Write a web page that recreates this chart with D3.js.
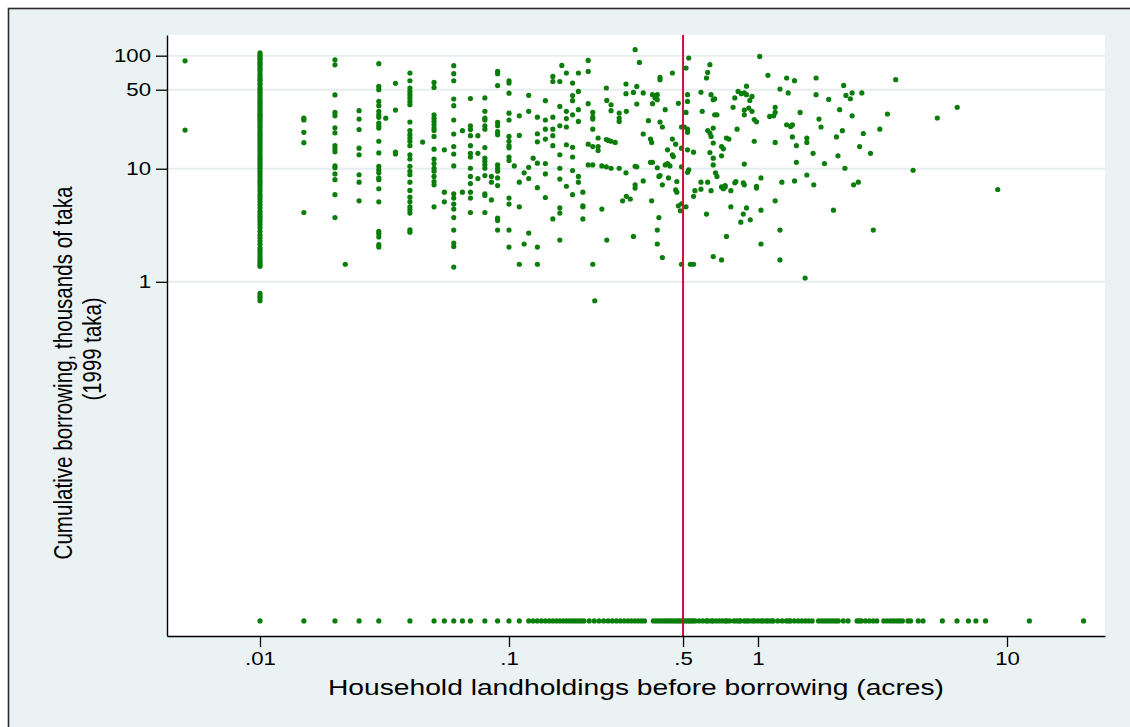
<!DOCTYPE html>
<html><head><meta charset="utf-8">
<script src="https://cdn.jsdelivr.net/npm/d3@7"></script>
<style>
body{margin:0;background:#fff;}
svg{display:block;}
text{font-family:"Liberation Sans", Arial, sans-serif;fill:#000;}
</style>
</head><body>
<svg id="chart" width="1130" height="727"></svg>
<script>
// ---------------- DATA ----------------
const xTickValues = [0.01, 0.1, 0.5, 1, 10];
const xTickLabels = [".01", ".1", ".5", "1", "10"];
const yTickValues = [1, 10, 50, 100];
const cutoffAcres = 0.5;
const zeroBorrowingPlotValue = 0.001; // households with no borrowing are drawn on this row

// households holding 0.01 acres (dense column), thousands of taka
const borrowingAt001 = [106,102,98,95,92,88,85,82,78,75,72,68,65,62,60,57,55,52,50,48,46,44,42,40,38.5,37,35.5,34,32.5,31,30,29,28,27,26,25,24,23,22,21,20,19.2,18.4,17.6,16.8,16,15.2,14.5,13.8,13.1,12.5,12,11.5,11,10.5,10,9.5,9,8.5,8,7.6,7.2,6.8,6.4,6,5.7,5.4,5.1,4.8,4.5,4.2,4,3.8,3.6,3.4,3.2,3,2.8,2.6,2.45,2.3,2.15,2,1.9,1.8,1.7,1.62,1.55,1.48,1.42,1.37,0.79,0.75,0.72,0.68];

// small holdings recorded in discrete steps
const columnLand = [0.005,0.015,0.02,0.022,0.025,0.03,0.032,0.035,0.04,0.045,0.05,0.055,0.06,0.065,0.07,0.075,0.08,0.085,0.09,0.1,0.105,0.11,0.115,0.12,0.125,0.13,0.14,0.15,0.16,0.163,0.17,0.18,0.19];
const columnBorrowing = [
  [90,22],
  [28,27,21,17,4.1],
  [92,83,45,31.5,29.4,23,20.8,16,15,14.1,10.6,10.2,9,8,5.9,3.7],
  [1.43],
  [32.6,27.5,22.2,15.2,13.3,8.85,7.6,5.2],
  [85,53.5,50,39.4,36.1,32.2,30,28.5,25.4,24,22.9,17.5,13.8,10.5,9.8,9.2,8.3,8,6.65,5.1,2.79,2.66,2.49,2.13,2.03],
  [28],
  [57,33,14,13.5],
  [70.3,60,51.8,48.3,45.2,42.3,39.4,36.9,25.9,21.8,20,18.7,17.5,16,13.3,12.2,10.5,9.5,8.85,7.6,6.43,5.6,5.1,4.6,4.33,4.05,2.88,2.75],
  [17.2],
  [58,52.4,30,28,26.2,24.5,22.9,21.8,19.3,14.9,12.2,11.1,10.1,9.5,8.55,7.7,7.2,4.6],
  [14.7,6.2,5.1],
  [81.6,69.3,60,41.4,36.1,27,20.3,15.7,13.5,10.6,6,5.5,4.87,4.4,3.7,2.87,2.2,2.05,1.35],
  [21.7,6.2],
  [41.8,24,22.2,19.6,16,13.7,12.7,10.1,8.55,7.4,6.2,5.5,4.1],
  [19.6,13.7,8.2],
  [42.3,32.2,28,27,24,22.4,15.4,12.4,11.6,10.8,10.1,8.7,6,5.8,4.1],
  [8.55,7.6,5.3],
  [72.7,69.3,54.4,25.7,24,21.3,20,10.8,10.1,9.5,8.3,7.1,3.66,3.49,2.87],
  [60,57.3,46.6,31,27,19.3,17.5,16,15.3,12.7,11.8,5.5,4.87,2.87,2.03],
  [10.6],
  [29.4,19.7,7.6,4.6,1.43],
  [9.2,2.16],
  [44.6,32.2,10.3,8.2,2.7],
  [12.4],
  [28.6,20.4,17.3,11.2,6.8,2.03,1.43],
  [40,27,22.4,18.3,11.1,9,5.57],
  [65.6,59.1,28.6,22.4,19.6,16,3.6],
  [59.1,35.6,24,13.3,10.1,8.1,4.5,4.05,2.34],
  [82],
  [70.3,32.2,27.8,23.4,16.3,7],
  [57.3,44.4,40,30,15.5,12.7,9.65,5.9],
  [70.3,48.3,33.3,26.2,8.55,7.6]
];

// [acres, thousands of taka] for holdings between 0.2 and 1 acre
const midHoldings = [[0.208,90.8],[0.208,72.6],[0.208,37.6],[0.217,31.5],[0.217,28.7],[0.217,27.5],[0.217,22.4],[0.208,16.5],[0.217,15.7],[0.228,18.7],[0.228,15.7],[0.228,14.5],[0.208,10.8],[0.217,10.8],[0.236,10.6],[0.246,18.1],[0.251,17.8],[0.257,17.5],[0.267,17.1],[0.246,51.8],[0.247,40.2],[0.257,36.8],[0.257,32.6],[0.246,10.4],[0.257,10.1],[0.277,31.1],[0.277,28.1],[0.277,26.2],[0.277,10.1],[0.295,56.2],[0.295,46.1],[0.296,32.2],[0.295,9.2],[0.316,47.3],[0.326,53.5],[0.326,37.4],[0.321,113],[0.334,87.2],[0.321,10.5],[0.326,10.4],[0.321,7.2],[0.321,6.75],[0.346,46.8],[0.346,7.8],[0.363,26.6],[0.346,20.3],[0.37,18.3],[0.374,17.1],[0.37,11.4],[0.377,11.4],[0.377,45.2],[0.386,42.3],[0.394,45.2],[0.394,40.8],[0.377,37.6],[0.404,64.3],[0.404,61.3],[0.404,25.9],[0.413,23.4],[0.424,33.3],[0.394,10.2],[0.4,8.55],[0.404,8.7],[0.413,7.2],[0.433,14.7],[0.453,13.3],[0.457,12.8],[0.467,16.5],[0.453,18.3],[0.424,10.8],[0.433,11.1],[0.443,10.6],[0.437,8.3],[0.453,70.3],[0.472,7.7],[0.479,37.9],[0.493,23.4],[0.506,23.4],[0.493,15.2],[0.493,10.4],[0.514,77.8],[0.527,95.4],[0.521,45.2],[0.521,39.4],[0.514,31.5],[0.521,22.4],[0.521,21],[0.521,14.7],[0.551,14],[0.527,9.8],[0.521,9.3],[0.59,47.5],[0.597,32.2],[0.59,7.6],[0.628,7.6],[0.621,63.5],[0.628,71.1],[0.641,83.2],[0.648,45.2],[0.67,41.6],[0.661,40.8],[0.67,30],[0.684,30],[0.661,22.9],[0.628,21.8],[0.641,20.7],[0.648,19.3],[0.641,13.9],[0.661,12.4],[0.661,10.8],[0.661,16.9],[0.747,18.7],[0.764,18.3],[0.714,15.7],[0.726,15],[0.714,13],[0.675,9.2],[0.684,8.55],[0.738,7.1],[0.714,6.9],[0.794,34.9],[0.807,42.3],[0.824,22.4],[0.832,48.3],[0.857,46.1],[0.881,46.8],[0.899,53.8],[0.899,45.2],[0.927,40.2],[0.946,43.6],[0.881,33],[0.881,30],[0.918,34.4],[0.946,32.2],[0.966,27.2],[0.986,26],[0.966,17.5],[0.881,11],[0.815,7.7],[0.873,7.5],[0.986,7],
[0.198,4.7],[0.198,4.6],[0.198,3.6],[0.198,6.2],[0.236,4.4],[0.217,1.43],[0.221,0.68],[0.247,2.34],[0.286,5.2],[0.296,5.7],[0.307,5.4],[0.316,2.52],[0.374,5.2],[0.4,3.7],[0.394,2.87],[0.394,2.16],[0.413,1.64],[0.467,6.5],[0.472,6.2],[0.479,4.7],[0.493,4.9],[0.488,4.25],[0.514,4.6],[0.493,1.43],[0.535,1.43],[0.551,1.43],[0.551,5.7],[0.558,6.4],[0.59,6.6],[0.648,6.4],[0.621,3.97],[0.726,6.65],[0.738,6.9],[0.778,6.4],[0.778,4.6],[0.807,7.5],[0.881,7.2],[0.747,2.52],[0.661,1.67],[0.714,1.56],[0.899,4.5],[0.873,3.97],[0.853,3.37],[0.931,3.54],[0.986,6.75]];

// [acres, thousands of taka] for holdings of 1 acre or more
const largeHoldings = [[1.016,98.6],[1.096,67],[1.303,63.5],[1.402,60.1],[1.711,63.5],[1.225,50.7],[1.322,46.8],[1.711,45.2],[1.923,41],[2.208,54.6],[2.255,44.5],[2.349,41.6],[2.388,46.8],[2.612,46.8],[3.573,61.3],[1.114,29],[1.156,29.4],[1.172,31.5],[1.172,34.9],[1.476,31.5],[2.128,33.3],[2.388,29.4],[3.311,30.5],[5.248,28.1],[6.31,34.9],[1.303,24.5],[1.352,23.7],[1.374,24.4],[1.758,27.5],[1.791,23.4],[1.374,19.1],[1.426,16],[1.571,18.7],[1.571,17.1],[1.172,17.1],[2.182,21.7],[2.065,19.1],[2.648,20.5],[3.085,22.4],[2.559,15.7],[2.831,13.7],[1.664,13.7],[2.095,13],[1.426,11.4],[1.849,11.1],[2.234,10.1],[4.198,9.7],[1.028,8.3],[1.247,7.6],[1.402,7.8],[1.571,8.8],[1.675,7.2],[2.421,7.2],[2.529,7.6],[9.18,6.55],[1.172,5.2],[2.009,4.3],[1.028,4.3],[1.225,2.87],[2.904,2.87],[1.028,2.16],[1.225,1.56],[1.546,1.08]];

// landholdings of households with zero cumulative borrowing
const zeroBorrowingLand = [0.01,0.015,0.02,0.025,0.03,0.04,0.05,0.055,0.06,0.065,0.07,0.08,0.09,0.1,0.11,0.12,0.125,0.13,0.135,0.14,0.145,0.15,0.155,0.16,0.165,0.17,0.175,0.18,0.185,0.19,0.195,0.2,0.21,0.22,0.23,0.24,0.25,0.26,0.27,0.28,0.29,0.3,0.31,0.32,0.33,0.34,0.35,0.38,0.39,0.4,0.41,0.42,0.43,0.44,0.45,0.46,0.47,0.48,0.49,0.5,0.51,0.52,0.53,0.54,0.55,0.56,0.58,0.6,0.62,0.63,0.65,0.66,0.68,0.7,0.72,0.74,0.75,0.77,0.8,0.82,0.84,0.85,0.88,0.9,0.92,0.95,0.97,1,1.03,1.05,1.08,1.1,1.13,1.15,1.2,1.25,1.3,1.33,1.35,1.4,1.45,1.5,1.55,1.6,1.65,1.75,1.8,1.85,1.9,1.95,2,2.05,2.1,2.2,2.3,2.5,2.55,2.6,2.7,2.8,2.9,3,3.2,3.3,3.4,3.5,3.6,3.7,3.8,4,4.1,4.4,4.6,5.5,6.3,7,7.5,8.2,12.3,20.3];

// ---------------- CHART ----------------
const svg = d3.select("#chart");
const plot = {left:167, right:1105, top:35, bottom:636};
const textStretch = 1.27;

svg.append("rect").attr("x",8.5).attr("y",8.5).attr("width",1150).attr("height",750)
  .attr("fill","#eaf2f3").attr("stroke","#2b2b2b").attr("stroke-width",1.6);
svg.append("rect").attr("x",plot.left).attr("y",plot.top)
  .attr("width",plot.right-plot.left).attr("height",plot.bottom-plot.top).attr("fill","#fff");

const x = d3.scaleLog().domain([Math.pow(10,-2.3735), Math.pow(10,1.3936)]).range([plot.left, plot.right]);
const y = d3.scaleLog().domain([Math.pow(10,-3.133), Math.pow(10,2.183)]).range([plot.bottom, plot.top]);

// gridlines
svg.append("g").selectAll("line").data(yTickValues).join("line")
  .attr("x1",plot.left).attr("x2",plot.right)
  .attr("y1",d=>y(d)).attr("y2",d=>y(d))
  .attr("stroke","#e6eef0").attr("stroke-width",2);

// assemble points
const points = [];
borrowingAt001.forEach(b=>points.push([0.01,b]));
columnLand.forEach((l,i)=>columnBorrowing[i].forEach(b=>points.push([l,b])));
midHoldings.forEach(p=>points.push(p));
largeHoldings.forEach(p=>points.push(p));
zeroBorrowingLand.forEach(l=>points.push([l, zeroBorrowingPlotValue]));

svg.append("g").selectAll("circle").data(points).join("circle")
  .attr("cx",d=>x(d[0])).attr("cy",d=>y(d[1])).attr("r",2.6)
  .attr("fill","#0a7d0a");

// cutoff line
svg.append("line").attr("x1",x(cutoffAcres)).attr("x2",x(cutoffAcres))
  .attr("y1",plot.top).attr("y2",plot.bottom)
  .attr("stroke","#cc1040").attr("stroke-width",2);

function stretch(sel, f){
  sel.each(function(){
    const w = this.getComputedTextLength();
    d3.select(this).attr("textLength", w*f).attr("lengthAdjust","spacingAndGlyphs");
  });
}

// axes
const yAxis = d3.axisLeft(y).tickValues(yTickValues).tickFormat(d3.format("d")).tickSize(11).tickSizeOuter(0).tickPadding(5);
const gy = svg.append("g").attr("transform",`translate(${plot.left},0)`).call(yAxis);
const xAxis = d3.axisBottom(x).tickValues(xTickValues).tickFormat((d,i)=>xTickLabels[i]).tickSize(11).tickSizeOuter(0).tickPadding(6);
const gx = svg.append("g").attr("transform",`translate(0,${plot.bottom})`).call(xAxis);
[gx,gy].forEach(g=>{
  g.select(".domain").attr("stroke","#000").attr("stroke-width",1.4);
  g.selectAll(".tick line").attr("stroke","#000").attr("stroke-width",1.3);
  g.selectAll(".tick text").attr("font-size",17.5).attr("font-family","Liberation Sans, Arial, sans-serif").attr("fill","#000");
});
stretch(gy.selectAll(".tick text"), textStretch);
stretch(gx.selectAll(".tick text"), textStretch);

// titles
svg.append("text").attr("x",(plot.left+plot.right)/2).attr("y",695)
  .attr("text-anchor","middle").attr("font-size",22)
  .attr("textLength",616).attr("lengthAdjust","spacingAndGlyphs")
  .text("Household landholdings before borrowing (acres)");

const yt = svg.append("g");
yt.append("text").attr("transform","translate(72,373) rotate(-90) scale(1,1.27)")
  .attr("text-anchor","middle").attr("font-size",21)
  .attr("textLength",373).attr("lengthAdjust","spacingAndGlyphs")
  .text("Cumulative borrowing, thousands of taka");
yt.append("text").attr("transform","translate(101,349) rotate(-90) scale(1,1.27)")
  .attr("text-anchor","middle").attr("font-size",21)
  .attr("textLength",103).attr("lengthAdjust","spacingAndGlyphs")
  .text("(1999 taka)");
</script>
</body></html>
